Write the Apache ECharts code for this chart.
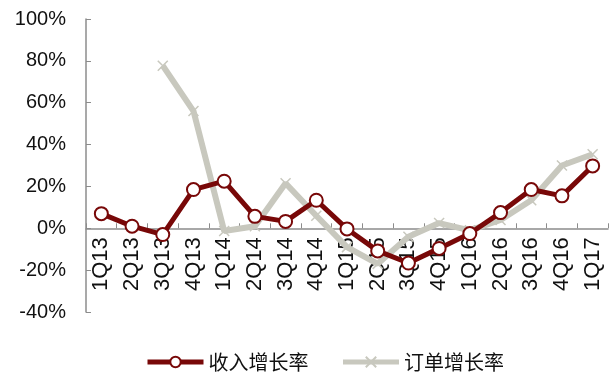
<!DOCTYPE html>
<html>
<head>
<meta charset="utf-8">
<script src="https://cdn.jsdelivr.net/npm/echarts@6/dist/echarts.min.js"></script>
<style>
  html, body { margin: 0; padding: 0; background: #fff; }
  #chart { width: 609px; height: 373px; }
</style>
</head>
<body>
<div id="chart"></div>
<script>
// Quarterly growth rates (%)
const quarters = ['1Q13','2Q13','3Q13','4Q13','1Q14','2Q14','3Q14','4Q14','1Q15','2Q15','3Q15','4Q15','1Q16','2Q16','3Q16','4Q16','1Q17'];
const revenueGrowth = [7, 1, -3, 18.5, 22.5, 5.7, 3.3, 13.4, -0.3, -10.8, -16.6, -9.6, -2.5, 7.5, 18.5, 15.5, 29.8];
const orderGrowth = [null, null, 77.7, 56, -1.3, 1, 21.5, 6, -9, -17, -4, 2.5, -1, 4, 13.4, 30, 35.4];
const seriesNames = ['收入增长率', '订单增长率'];
const yTicks = { min: -40, max: 100, step: 20 };

const axisGray = '#8c8c8c';
const redColor = '#780808';
const grayColor = '#c8c8be';
const crossPath = 'path://M0,0L10,10M10,0L0,10';

// Plot area geometry (px)
const gridTop = 19;
const gridBottom = 61;
const chartHeight = 373;
const plotHeight = chartHeight - gridTop - gridBottom;
// distance from the bottom edge of the plot up to the 0% line
const zeroLift = plotHeight * (0 - yTicks.min) / (yTicks.max - yTicks.min);

const chart = echarts.init(document.getElementById('chart'), null, { renderer: 'canvas' });
chart.setOption({
  animation: false,
  backgroundColor: '#fff',
  grid: { left: 86, right: 1, top: gridTop, bottom: gridBottom, outerBoundsMode: 'none' },
  legend: {
    top: 347,
    left: 140,
    itemWidth: 56,
    itemHeight: 13,
    itemGap: 32,
    textStyle: { fontFamily: 'Noto Sans CJK SC', fontSize: 20, color: '#111' },
    data: [
      { name: seriesNames[0], lineStyle: { width: 5, color: redColor } },
      { name: seriesNames[1], lineStyle: { width: 5, color: grayColor } }
    ]
  },
  xAxis: {
    type: 'category',
    data: quarters,
    boundaryGap: true,
    offset: -zeroLift,
    axisLine: { onZero: false, lineStyle: { color: axisGray, width: 1.5 } },
    axisTick: { show: true, inside: true, length: 5, alignWithLabel: false, lineStyle: { color: axisGray } },
    axisLabel: {
      rotate: 90,
      margin: 9,
      fontFamily: 'Liberation Sans',
      fontSize: 22,
      color: '#111'
    }
  },
  yAxis: {
    type: 'value',
    min: yTicks.min,
    max: yTicks.max,
    interval: yTicks.step,
    axisLine: { show: true, lineStyle: { color: axisGray, width: 1.5 } },
    axisTick: { show: true, inside: true, length: 5, lineStyle: { color: axisGray } },
    splitLine: { show: false },
    axisLabel: {
      formatter: '{value}%',
      margin: 20,
      fontFamily: 'Liberation Sans',
      fontSize: 20,
      color: '#111'
    }
  },
  series: [
    {
      name: seriesNames[1],
      type: 'line',
      data: orderGrowth,
      z: 2,
      symbol: crossPath,
      symbolSize: 10,
      lineStyle: { color: grayColor, width: 6 },
      itemStyle: { color: grayColor, borderColor: grayColor, borderWidth: 1.5 }
    },
    {
      name: seriesNames[0],
      type: 'line',
      data: revenueGrowth,
      z: 3,
      symbol: 'circle',
      symbolSize: 13,
      showAllSymbol: true,
      lineStyle: { color: redColor, width: 5 },
      itemStyle: { color: '#fff', borderColor: redColor, borderWidth: 2 }
    }
  ]
});
</script>
</body>
</html>
